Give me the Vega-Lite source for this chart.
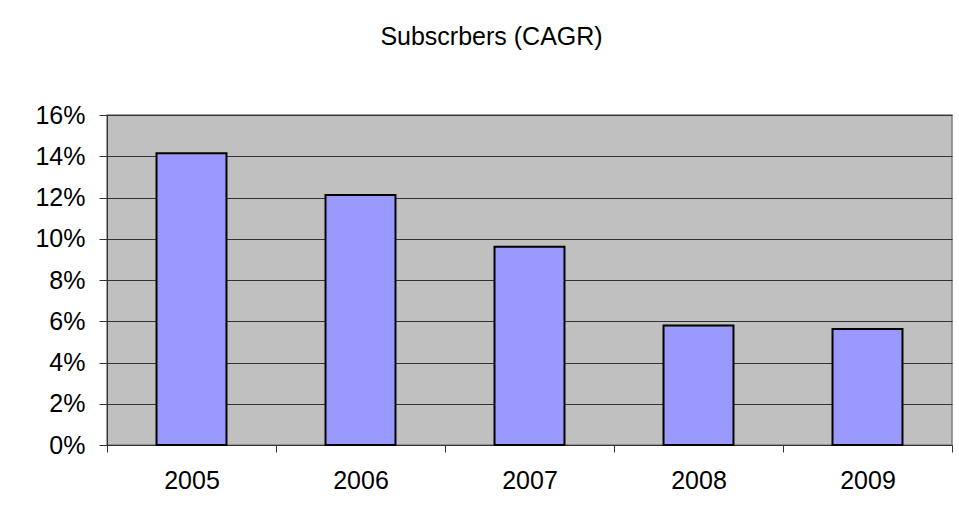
{
  "$schema": "https://vega.github.io/schema/vega-lite/v6.json",
  "width": 845,
  "height": 330,
  "autosize": {"type": "none"},
  "padding": {"left": 107, "top": 115, "right": 7, "bottom": 78},
  "background": "white",
  "title": {
    "text": "Subscrbers (CAGR)",
    "font": "Liberation Sans",
    "fontSize": 25,
    "fontWeight": "normal",
    "color": "black",
    "anchor": "middle",
    "frame": "group",
    "baseline": "alphabetic",
    "offset": 33,
    "dx": -38
  },
  "data": {
    "values": [
      {"year": "2005", "cagr": 0.1414},
      {"year": "2006", "cagr": 0.1212},
      {"year": "2007", "cagr": 0.0961},
      {"year": "2008", "cagr": 0.058},
      {"year": "2009", "cagr": 0.0562}
    ]
  },
  "mark": {
    "type": "bar",
    "fill": "#9999FF",
    "stroke": "black",
    "strokeWidth": 2,
    "width": {"band": 0.414}
  },
  "encoding": {
    "x": {
      "field": "year",
      "type": "nominal",
      "scale": {"paddingInner": 0, "paddingOuter": 0},
      "axis": {
        "title": null,
        "labelAngle": 0,
        "tickBand": "extent",
        "tickSize": 7,
        "tickColor": "#333333",
        "domainColor": "#333333",
        "labelPadding": 16,
        "labelFont": "Liberation Sans",
        "labelFontSize": 25,
        "labelColor": "black",
        "grid": false
      }
    },
    "y": {
      "field": "cagr",
      "type": "quantitative",
      "scale": {"domain": [0, 0.16], "nice": false},
      "axis": {
        "title": null,
        "values": [0, 0.02, 0.04, 0.06, 0.08, 0.1, 0.12, 0.14, 0.16],
        "format": ".0%",
        "tickSize": 8,
        "tickColor": "#333333",
        "domainColor": "#333333",
        "gridColor": "#333333",
        "gridWidth": 1,
        "labelPadding": 14,
        "labelFont": "Liberation Sans",
        "labelFontSize": 25,
        "labelColor": "black"
      }
    }
  },
  "config": {
    "view": {"fill": "#C0C0C0", "stroke": "#808080", "strokeWidth": 1.5},
    "axis": {"gridOpacity": 1, "domainWidth": 1, "tickWidth": 1}
  }
}
